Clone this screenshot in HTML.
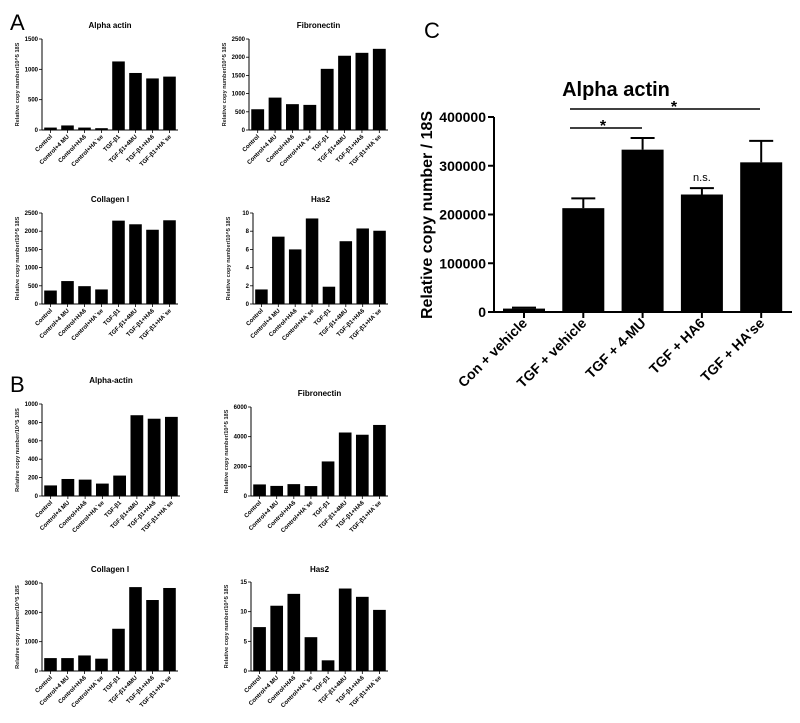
<!DOCTYPE html>
<html><head><meta charset="utf-8"><style>
html,body{margin:0;padding:0;background:#fff;}
svg{display:block;font-family:"Liberation Sans",Arial,sans-serif;}
</style></head><body>
<svg id="fig" width="800" height="723" viewBox="0 0 800 723">
<text x="10" y="30" font-size="22">A</text>
<text x="10" y="392" font-size="22">B</text>
<text x="424" y="38" font-size="22">C</text>
</svg>
<script>
const smallCats = ["Control","Control+4 MU","Control+HA6","Control+HA`se","TGF-β1","TGF-β1+4MU","TGF-β1+HA6","TGF-β1+HA`se"];
const aAlphaVals = [40,75,40,30,1130,940,850,880];
const aFibVals = [570,890,710,690,1680,2040,2120,2230];
const aColVals = [370,630,490,400,2290,2190,2040,2300];
const aHasVals = [1.6,7.4,6.0,9.4,1.9,6.9,8.3,8.05];
const bAlphaVals = [115,185,178,135,222,878,840,860];
const bFibVals = [780,680,800,670,2330,4280,4130,4790];
const bColVals = [440,440,530,420,1440,2860,2420,2830];
const bHasVals = [7.4,11,13,5.7,1.8,13.9,12.5,10.3];
const ticks1500 = [0,500,1000,1500];
const ticks2500 = [0,500,1000,1500,2000,2500];
const ticks10 = [0,2,4,6,8,10];
const ticks1000 = [0,200,400,600,800,1000];
const ticks6000 = [0,2000,4000,6000];
const ticks3000 = [0,1000,2000,3000];
const ticks15 = [0,5,10,15];
const cCats = ["Con + vehicle","TGF + vehicle","TGF + 4-MU","TGF + HA6","TGF + HA'se"];
const cVals = [7000,213000,333000,241000,307000];
const cErr = [2000,20000,24000,13000,44000];
const cTicks = [0,100000,200000,300000,400000];

const NS="http://www.w3.org/2000/svg";
const svg=document.getElementById('fig');
function mk(tag,attrs,parent){const e=document.createElementNS(NS,tag);for(const k in attrs)e.setAttribute(k,attrs[k]);(parent||svg).appendChild(e);return e;}

function small(name,title,vals,ticks,ax,y0,yTop,xEnd,titleY){
  const g=mk('g',{});
  
  
  const max=ticks[ticks.length-1];
  const yS=v=>y0-(v/max)*(y0-yTop);
  const slot=(xEnd-ax)/8;
  const t=mk('text',{x:(ax+xEnd)/2,y:titleY,'font-size':8,'font-weight':'bold','text-anchor':'middle'},g);
  t.textContent=title;
  
  
  const yt=mk('text',{transform:`translate(${ax-23},${(y0+yTop)/2}) rotate(-90)`,'font-size':5.6,'text-anchor':'middle','font-weight':'bold',fill:'#222'},g);
  yt.textContent="Relative copy number/10^5 18S";
  
  
  mk('line',{x1:ax,y1:yTop,x2:ax,y2:y0,stroke:'#000','stroke-width':1},g);
  mk('line',{x1:ax,y1:y0,x2:xEnd,y2:y0,stroke:'#000','stroke-width':1},g);
  ticks.forEach(v=>{
    const y=yS(v);
    mk('line',{x1:ax-3,y1:y,x2:ax,y2:y,stroke:'#000','stroke-width':0.8},g);
    const tl=mk('text',{x:ax-4,y:y+2,'font-size':6,'font-weight':'bold','text-anchor':'end'},g);
    tl.textContent=v;
    
    
  });
  vals.forEach((v,i)=>{
    const cx=ax+slot*(i+0.5);
    const w=slot*0.74;
    const r=mk('rect',{x:cx-w/2,y:yS(v),width:w,height:y0-yS(v),fill:'#000'},g);
    
    
    mk('line',{x1:cx,y1:y0,x2:cx,y2:y0+3,stroke:'#000','stroke-width':0.8},g);
    const tl=mk('text',{transform:`translate(${cx+2},${y0+7}) rotate(-45)`,'font-size':6,'font-weight':'bold','text-anchor':'end'},g);
    tl.textContent=smallCats[i];
    
    
  });
}
small('chart-a-alpha-actin','Alpha actin',aAlphaVals,ticks1500,42,130,39,178,28);
small('chart-a-fibronectin','Fibronectin',aFibVals,ticks2500,249,130,39,388,28);
small('chart-a-collagen','Collagen I',aColVals,ticks2500,42,304,213,178,202);
small('chart-a-has2','Has2',aHasVals,ticks10,253,304,213,388,202);
small('chart-b-alpha-actin','Alpha-actin',bAlphaVals,ticks1000,42,496,404,180,383);
small('chart-b-fibronectin','Fibronectin',bFibVals,ticks6000,251,496,407,388,396);
small('chart-b-collagen','Collagen I',bColVals,ticks3000,42,671,583,178,572);
small('chart-b-has2','Has2',bHasVals,ticks15,251,671,582,388,572);

// Panel C
(function(){
  const g=mk('g',{});
  
  
  const ax=494,y0=312,yTop=117,xEnd=792,max=400000;
  const yS=v=>y0-(v/max)*(y0-yTop);
  const xC=i=>524+i*59.3;
  const t=mk('text',{x:616,y:96,'font-size':20,'font-weight':'bold','text-anchor':'middle'},g);
  t.textContent="Alpha actin";
  
  
  const yt=mk('text',{transform:`translate(432,215) rotate(-90)`,'font-size':16,'font-weight':'bold','text-anchor':'middle'},g);
  yt.textContent="Relative copy number / 18S";
  
  
  mk('line',{x1:ax,y1:yTop,x2:ax,y2:y0,stroke:'#000','stroke-width':2},g);
  mk('line',{x1:ax,y1:y0,x2:xEnd,y2:y0,stroke:'#000','stroke-width':2},g);
  cTicks.forEach(v=>{
    const y=yS(v);
    mk('line',{x1:ax-6,y1:y,x2:ax,y2:y,stroke:'#000','stroke-width':2},g);
    const tl=mk('text',{x:ax-8,y:y+5,'font-size':14,'font-weight':'bold','text-anchor':'end'},g);
    tl.textContent=v;
    
    
  });
  cVals.forEach((v,i)=>{
    const cx=xC(i),w=42;
    const top=v+cErr[i];
    mk('line',{x1:cx,y1:yS(top),x2:cx,y2:yS(v),stroke:'#000','stroke-width':2},g);
    mk('line',{x1:cx-12,y1:yS(top),x2:cx+12,y2:yS(top),stroke:'#000','stroke-width':2},g);
    const r=mk('rect',{x:cx-w/2,y:yS(v),width:w,height:y0-yS(v),fill:'#000'},g);
    
    
    const eb=mk('g',{},g);
    
    
    mk('line',{x1:cx,y1:y0,x2:cx,y2:y0+6,stroke:'#000','stroke-width':2},g);
    const tl=mk('text',{transform:`translate(${cx+4},${y0+12}) rotate(-45)`,'font-size':14,'font-weight':'bold','text-anchor':'end'},g);
    tl.textContent=cCats[i];
    
    
  });
  mk('line',{x1:570,y1:109,x2:760,y2:109,stroke:'#000','stroke-width':1.5},g);
  mk('line',{x1:570,y1:128,x2:642,y2:128,stroke:'#000','stroke-width':1.5},g);
  const s1=mk('text',{x:674,y:112,'font-size':16,'font-weight':'bold','text-anchor':'middle'},g);
  s1.textContent="*";
  
  
  const s2=mk('text',{x:603,y:131,'font-size':16,'font-weight':'bold','text-anchor':'middle'},g);
  s2.textContent="*";
  
  
  const ns=mk('text',{x:xC(3),y:181,'font-size':11,'text-anchor':'middle'},g);
  ns.textContent="n.s.";
  
  
})();
</script>
</body></html>
